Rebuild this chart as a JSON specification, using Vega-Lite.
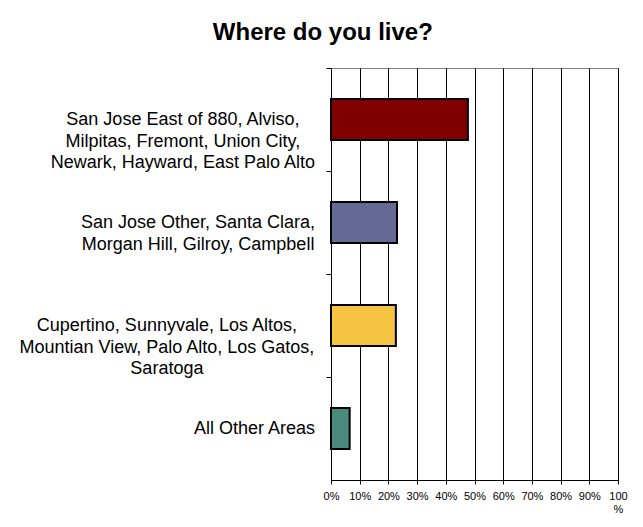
{
  "$schema": "https://vega.github.io/schema/vega-lite/v6.json",
  "autosize": "none",
  "width": 287,
  "height": 412,
  "padding": {"left": 331, "top": 68, "right": 25, "bottom": 47},
  "background": "white",
  "title": {
    "text": "Where do you live?",
    "font": "Liberation Sans",
    "fontSize": 24,
    "fontWeight": "bold",
    "color": "black",
    "anchor": "middle",
    "frame": "bounds",
    "offset": 23
  },
  "data": {
    "values": [
      {"area": "San Jose East of 880, Alviso,|Milpitas, Fremont, Union City,|Newark, Hayward, East Palo Alto", "share": 0.477, "key": "A"},
      {"area": "San Jose Other, Santa Clara,|Morgan Hill, Gilroy, Campbell", "share": 0.23, "key": "B"},
      {"area": "Cupertino, Sunnyvale, Los Altos,|Mountian View, Palo Alto, Los Gatos,|Saratoga", "share": 0.226, "key": "C"},
      {"area": "All Other Areas", "share": 0.065, "key": "D"}
    ]
  },
  "mark": {"type": "bar", "stroke": "black", "strokeWidth": 2},
  "encoding": {
    "y": {
      "field": "area",
      "type": "nominal",
      "sort": null,
      "title": null,
      "scale": {"paddingInner": 0.6, "paddingOuter": 0.3},
      "axis": {
        "labelExpr": "split(datum.label, '|')",
        "labelFont": "Liberation Sans",
        "labelFontSize": 18,
        "labelLineHeight": 21.7,
        "labelColor": "black",
        "labelLimit": 500,
        "labelAlign": "center",
        "labelPadding": {
          "condition": [
            {"test": "indexof(datum.value, 'Alviso') >= 0", "value": 143.6},
            {"test": "indexof(datum.value, 'Campbell') >= 0", "value": 128.5},
            {"test": "indexof(datum.value, 'Saratoga') >= 0", "value": 159.6}
          ],
          "value": 72
        },
        "tickOffset": -51.5,
        "labelOffset": 51.5,
        "tickSize": 5,
        "tickColor": "black",
        "domainColor": "black",
        "grid": false
      }
    },
    "x": {
      "field": "share",
      "type": "quantitative",
      "title": null,
      "scale": {"domain": [0, 1], "nice": false},
      "axis": {
        "values": [0, 0.1, 0.2, 0.3, 0.4, 0.5, 0.6, 0.7, 0.8, 0.9, 1],
        "format": ".0%",
        "labelExpr": "datum.value == 1 ? ['100', '%'] : datum.label",
        "labelFont": "Liberation Sans",
        "labelFontSize": 11,
        "labelLineHeight": 13,
        "labelColor": "black",
        "labelPadding": 6,
        "labelFlush": false,
        "labelOverlap": false,
        "tickSize": 4,
        "tickColor": "black",
        "domainColor": "black",
        "grid": true,
        "gridColor": "black",
        "gridOpacity": 1,
        "gridWidth": 1
      }
    },
    "color": {
      "field": "key",
      "type": "nominal",
      "legend": null,
      "scale": {"domain": ["A", "B", "C", "D"], "range": ["#800000", "#646A94", "#F5C542", "#4A8A7A"]}
    }
  },
  "config": {
    "view": {"stroke": "#808080", "strokeWidth": 1}
  }
}
